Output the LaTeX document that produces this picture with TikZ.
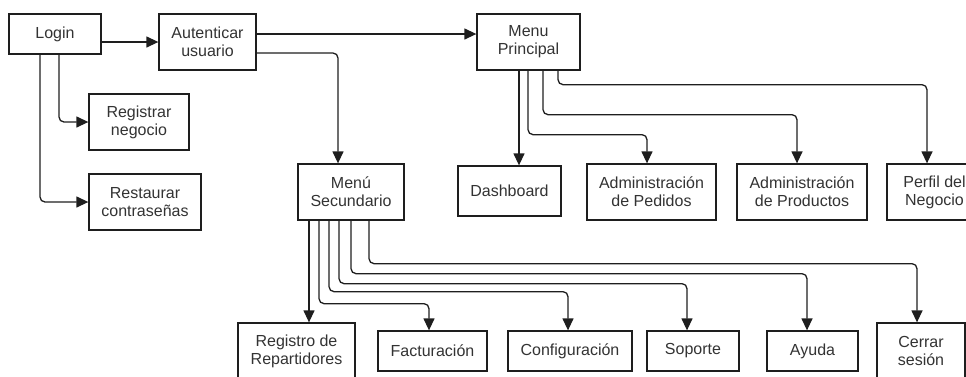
\documentclass[tikz,border=0pt]{standalone}
\usepackage{fontspec}
\setmainfont{Liberation Sans}
\usetikzlibrary{arrows.meta,calc}
\definecolor{ink}{HTML}{1E1E1E}
\definecolor{txt}{HTML}{333333}
\tikzset{
  box/.style={draw=ink, line width=1.3pt, fill=white, inner sep=0pt, align=center,
    text=txt, font=\fontsize{16}{18}\selectfont},
  link/.style={draw=ink, line width=1.3pt, rounded corners=5pt,
    -{Triangle[length=12pt,width=11pt]}},
}
% place a box by its left, top, right and bottom edges (pixel units, y downward)
\newcommand{\pbox}[6]{%
  \node[box, minimum width=#4pt-#2pt, minimum height=#5pt-#3pt]
    (#1) at ({(#2+#4)/2},{(#3+#5)/2}) {#6};}
\begin{document}
\begin{tikzpicture}[x=1pt,y=-1pt]
\useasboundingbox (0,0) rectangle (966,376);

% login area
\pbox{login}{9}{14}{101}{54}{Login}
\pbox{auth}{159}{14}{256}{70}{Autenticar\\usuario}
\pbox{reg}{89}{94}{189}{150}{Registrar\\negocio}
\pbox{rest}{89}{174}{201}{230}{Restaurar\\contraseñas}

% main menu and its options
\pbox{menup}{477}{14}{580}{70}{Menu\\Principal}
\pbox{dash}{458}{166}{561}{216}{Dashboard}
\pbox{adped}{587}{164}{716}{220}{Administración\\de Pedidos}
\pbox{adprod}{737}{164}{867}{220}{Administración\\de Productos}
\pbox{perfil}{887}{164}{982}{220}{Perfil del\\Negocio}

% secondary menu and its options
\pbox{menus}{298}{164}{404}{220}{Menú\\Secundario}
\pbox{regrep}{238}{323}{355}{379}{Registro de\\Repartidores}
\pbox{fact}{378}{331}{487}{371}{Facturación}
\pbox{conf}{508}{331}{632}{371}{Configuración}
\pbox{sop}{647}{331}{739}{371}{Soporte}
\pbox{ayu}{767}{331}{858}{371}{Ayuda}
\pbox{cerrar}{877}{323}{965}{379}{Cerrar\\sesión}

% login connectors
\draw[link] (login.east |- auth.west) -- (auth.west);
\draw[link] ($(login.south)+(4,0)$) |- (reg.west);
\draw[link] ($(login.south)+(-15,0)$) |- (rest.west);
\draw[link] ($(auth.east)+(0,-8)$) coordinate (a1) -- (a1 -| menup.west);
\draw[link] ($(auth.east)+(0,11)$) -| ($(menus.north)+(-13,0)$);

% main menu connectors
\draw[link] ($(menup.south)+(-9.5,0)$) coordinate (m1) -- (m1 |- dash.north);
\draw[link] ($(menup.south)+(-0.5,0)$) -- ++(0,64) -| ($(adped.north)+(-4.5,0)$);
\draw[link] ($(menup.south)+(14.5,0)$) -- ++(0,44) -| ($(adprod.north)+(-5,0)$);
\draw[link] ($(menup.south)+(29.5,0)$) -- ++(0,14) -| ($(perfil.north)+(-7.5,0)$);

% secondary menu connectors
\draw[link] ($(menus.south)+(-42,0)$) coordinate (s1) -- (s1 |- regrep.north);
\draw[link] ($(menus.south)+(-32,0)$) -- ++(0,83) -| ($(fact.north)+(-3.5,0)$);
\draw[link] ($(menus.south)+(-22,0)$) -- ++(0,71) -| ($(conf.north)+(-2,0)$);
\draw[link] ($(menus.south)+(-12,0)$) -- ++(0,63) -| ($(sop.north)+(-6,0)$);
\draw[link] (menus.south) -- ++(0,53) -| ($(ayu.north)+(-5.5,0)$);
\draw[link] ($(menus.south)+(18,0)$) -- ++(0,43) -| ($(cerrar.north)+(-4,0)$);
\end{tikzpicture}
\end{document}
